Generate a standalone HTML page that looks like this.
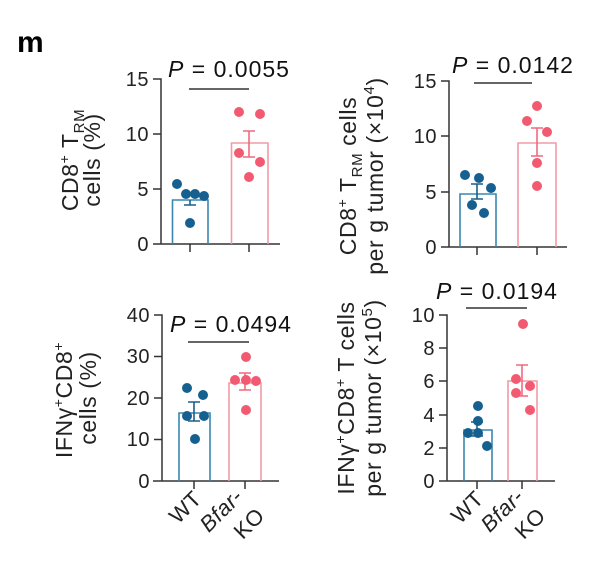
<!DOCTYPE html>
<html><head><meta charset="utf-8"><style>
body{margin:0;background:#fff}
svg{display:block;font-family:"Liberation Sans",sans-serif}
.t{font-size:20px;fill:#222;letter-spacing:0.5px}
.y{font-size:23px;fill:#222;letter-spacing:0.6px}
.x{font-size:22px;fill:#222;letter-spacing:0.5px}
.p{font-size:23px;fill:#111;letter-spacing:1px}
.ax{stroke:#333;stroke-width:1.5;fill:none}
.wb{stroke:#3a87b0;stroke-width:1.6;fill:none}
.kb{stroke:#f29aa6;stroke-width:1.6;fill:none}
.we{stroke:#1a5f8a;stroke-width:1.6;fill:none}
.ke{stroke:#ee6a7e;stroke-width:1.6;fill:none}
.wd{fill:#15608f}
.kd{fill:#f25a72}
</style></head><body>
<svg width="600" height="572" viewBox="0 0 600 572">
<text x="17" y="52" style="font-size:30px;font-weight:bold" fill="#000">m</text>

<!-- Panel 1 -->
<g>
<path class="ax" d="M153 79H161V244M153 134H161M153 189H161M153 244H280M190 244V252M249 244V252"/>
<text class="t" x="149" y="86" text-anchor="end">15</text>
<text class="t" x="149" y="141" text-anchor="end">10</text>
<text class="t" x="149" y="196" text-anchor="end">5</text>
<text class="t" x="149" y="251" text-anchor="end">0</text>
<path class="wb" d="M172.5 244V200H208V244"/>
<path class="kb" d="M231.5 244V143H268V244"/>
<path class="we" d="M190 200V205M184 205H196"/>
<path class="ke" d="M249 131V157M243 131H255M243 157H255"/>
<circle class="wd" cx="177" cy="184" r="5"/><circle class="wd" cx="186" cy="194" r="5"/><circle class="wd" cx="195" cy="194" r="5"/><circle class="wd" cx="204" cy="196" r="5"/><circle class="wd" cx="190" cy="223" r="5"/>
<circle class="kd" cx="239" cy="112" r="5"/><circle class="kd" cx="260" cy="114" r="5"/><circle class="kd" cx="239" cy="153" r="5"/><circle class="kd" cx="260" cy="162" r="5"/><circle class="kd" cx="249" cy="177" r="5"/>
<path class="ax" d="M189 89H249"/>
<text class="p" x="229" y="77" text-anchor="middle"><tspan font-style="italic">P</tspan> = 0.0055</text>
<text class="y" transform="translate(78,160) rotate(-90)" text-anchor="middle">CD8<tspan dy="-9" font-size="14">+</tspan><tspan dy="9"> T</tspan><tspan dy="6" font-size="15">RM</tspan></text>
<text class="y" transform="translate(100,160) rotate(-90)" text-anchor="middle">cells (%)</text>
</g>

<!-- Panel 2 -->
<g>
<path class="ax" d="M441 81H449V247M441 136H449M441 192H449M441 247H567M477 247V255M537 247V255"/>
<text class="t" x="437" y="88" text-anchor="end">15</text>
<text class="t" x="437" y="143" text-anchor="end">10</text>
<text class="t" x="437" y="199" text-anchor="end">5</text>
<text class="t" x="437" y="254" text-anchor="end">0</text>
<path class="wb" d="M460 247V194H496V247"/>
<path class="kb" d="M518 247V143H556V247"/>
<path class="we" d="M477 184V199M471 184H483M471 199H483"/>
<path class="ke" d="M537 128V156M531 128H543M531 156H543"/>
<circle class="wd" cx="465" cy="175" r="5"/><circle class="wd" cx="479" cy="178" r="5"/><circle class="wd" cx="491" cy="188" r="5"/><circle class="wd" cx="472" cy="205" r="5"/><circle class="wd" cx="484" cy="213" r="5"/>
<circle class="kd" cx="537" cy="106" r="5"/><circle class="kd" cx="527" cy="121" r="5"/><circle class="kd" cx="547" cy="132" r="5"/><circle class="kd" cx="537" cy="163" r="5"/><circle class="kd" cx="537" cy="186" r="5"/>
<path class="ax" d="M474 83H532"/>
<text class="p" x="513" y="73" text-anchor="middle"><tspan font-style="italic">P</tspan> = 0.0142</text>
<text class="y" transform="translate(356,176) rotate(-90)" text-anchor="middle">CD8<tspan dy="-9" font-size="14">+</tspan><tspan dy="9"> T</tspan><tspan dy="6" font-size="15">RM</tspan><tspan dy="-6"> cells</tspan></text>
<text class="y" transform="translate(383,176) rotate(-90)" text-anchor="middle">per g tumor (×10<tspan dy="-9" font-size="15">4</tspan><tspan dy="9">)</tspan></text>
</g>

<!-- Panel 3 -->
<g>
<path class="ax" d="M154 315H162V481M154 356.5H162M154 398H162M154 439.5H162M153 481H279M194 481V489M245 481V489"/>
<text class="t" x="150" y="322" text-anchor="end">40</text>
<text class="t" x="150" y="363" text-anchor="end">30</text>
<text class="t" x="150" y="405" text-anchor="end">20</text>
<text class="t" x="150" y="446" text-anchor="end">10</text>
<text class="t" x="150" y="488" text-anchor="end">0</text>
<path class="wb" d="M179 481V413H210V481"/>
<path class="kb" d="M229 481V383H261V481"/>
<path class="we" d="M194 402V421M188 402H200M188 421H200"/>
<path class="ke" d="M245 373V390M239 373H251M239 390H251"/>
<circle class="wd" cx="187" cy="388" r="5"/><circle class="wd" cx="203" cy="395" r="5"/><circle class="wd" cx="187" cy="416" r="5"/><circle class="wd" cx="204" cy="416" r="5"/><circle class="wd" cx="195" cy="439" r="5"/>
<circle class="kd" cx="246" cy="357" r="5"/><circle class="kd" cx="235" cy="380" r="5"/><circle class="kd" cx="246" cy="380" r="5"/><circle class="kd" cx="256" cy="381" r="5"/><circle class="kd" cx="246" cy="410" r="5"/>
<path class="ax" d="M188 342H249"/>
<text class="p" x="231" y="332" text-anchor="middle"><tspan font-style="italic">P</tspan> = 0.0494</text>
<text class="y" transform="translate(72,400) rotate(-90)" text-anchor="middle">IFNγ<tspan dy="-9" font-size="14">+</tspan><tspan dy="9">CD8</tspan><tspan dy="-9" font-size="14">+</tspan></text>
<text class="y" transform="translate(96,398) rotate(-90)" text-anchor="middle">cells (%)</text>
<text class="x" transform="translate(203,500) rotate(-45)" text-anchor="end">WT</text>
<text class="x" transform="translate(244,498) rotate(-45)" text-anchor="end" font-style="italic">Bfar-</text>
<text class="x" transform="translate(266,517) rotate(-45)" text-anchor="end">KO</text>
</g>

<!-- Panel 4 -->
<g>
<path class="ax" d="M439 315H447V481M439 348H447M439 381H447M439 415H447M439 448H447M439 481H555M477 481V489M522 481V489"/>
<text class="t" x="435" y="322" text-anchor="end">10</text>
<text class="t" x="435" y="355" text-anchor="end">8</text>
<text class="t" x="435" y="388" text-anchor="end">6</text>
<text class="t" x="435" y="422" text-anchor="end">4</text>
<text class="t" x="435" y="455" text-anchor="end">2</text>
<text class="t" x="435" y="488" text-anchor="end">0</text>
<path class="wb" d="M464 481V430H492V481"/>
<path class="kb" d="M508 481V381H537V481"/>
<path class="we" d="M477 422V436M471 422H483M471 436H483"/>
<path class="ke" d="M522 365V396M516 365H528M516 396H528"/>
<circle class="wd" cx="478" cy="406" r="5"/><circle class="wd" cx="478" cy="421" r="5"/><circle class="wd" cx="468" cy="433" r="5"/><circle class="wd" cx="478" cy="433" r="5"/><circle class="wd" cx="487" cy="446" r="5"/>
<circle class="kd" cx="523" cy="324" r="5"/><circle class="kd" cx="516" cy="379" r="5"/><circle class="kd" cx="530" cy="386" r="5"/><circle class="kd" cx="516" cy="393" r="5"/><circle class="kd" cx="530" cy="410" r="5"/>
<path class="ax" d="M466 308H527"/>
<text class="p" x="497" y="299" text-anchor="middle"><tspan font-style="italic">P</tspan> = 0.0194</text>
<text class="y" transform="translate(354,398) rotate(-90)" text-anchor="middle">IFNγ<tspan dy="-9" font-size="14">+</tspan><tspan dy="9">CD8</tspan><tspan dy="-9" font-size="14">+</tspan><tspan dy="9"> T cells</tspan></text>
<text class="y" transform="translate(381,398) rotate(-90)" text-anchor="middle">per g tumor (×10<tspan dy="-9" font-size="15">5</tspan><tspan dy="9">)</tspan></text>
<text class="x" transform="translate(485,500) rotate(-45)" text-anchor="end">WT</text>
<text class="x" transform="translate(525,498) rotate(-45)" text-anchor="end" font-style="italic">Bfar-</text>
<text class="x" transform="translate(547,517) rotate(-45)" text-anchor="end">KO</text>
</g>
</svg>
</body></html>
